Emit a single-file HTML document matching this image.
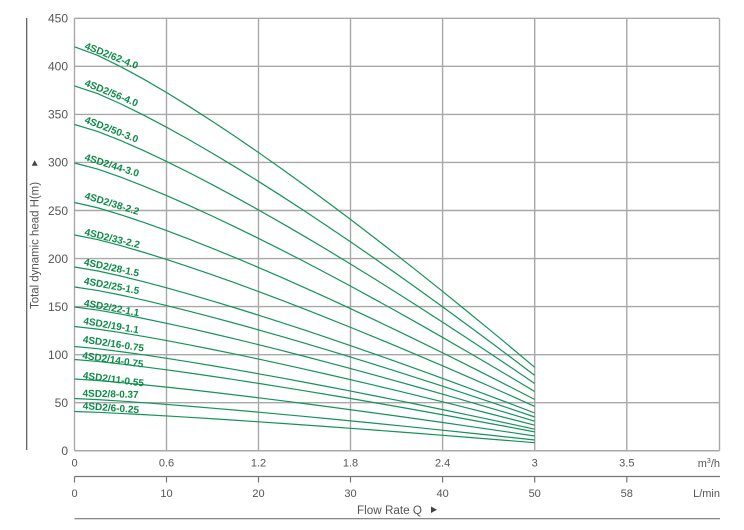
<!DOCTYPE html>
<html><head><meta charset="utf-8"><style>
html,body{margin:0;padding:0;background:#fff;}
svg{display:block;}
text{font-family:"Liberation Sans",sans-serif;}
.cv{fill:none;stroke:#14935a;stroke-width:1.2;vector-effect:non-scaling-stroke;}
</style></head><body>
<svg width="744" height="530" viewBox="0 0 744 530" xmlns="http://www.w3.org/2000/svg">
<!-- grid -->
<g stroke="#a8a8a8" stroke-width="1.4" fill="none">
<line x1="74.5" y1="18.3" x2="74.5" y2="450.75"/>
<line x1="166.5" y1="18.3" x2="166.5" y2="450.75"/>
<line x1="258.5" y1="18.3" x2="258.5" y2="450.75"/>
<line x1="350.5" y1="18.3" x2="350.5" y2="450.75"/>
<line x1="442.6" y1="18.3" x2="442.6" y2="450.75"/>
<line x1="534.7" y1="18.3" x2="534.7" y2="450.75"/>
<line x1="626.8" y1="18.3" x2="626.8" y2="450.75"/>
<line x1="719.5" y1="18.3" x2="719.5" y2="450.75"/>
<line x1="74.5" y1="18.3" x2="719.5" y2="18.3"/>
<line x1="74.5" y1="66.35" x2="719.5" y2="66.35"/>
<line x1="74.5" y1="114.4" x2="719.5" y2="114.4"/>
<line x1="74.5" y1="162.45" x2="719.5" y2="162.45"/>
<line x1="74.5" y1="210.5" x2="719.5" y2="210.5"/>
<line x1="74.5" y1="258.55" x2="719.5" y2="258.55"/>
<line x1="74.5" y1="306.6" x2="719.5" y2="306.6"/>
<line x1="74.5" y1="354.65" x2="719.5" y2="354.65"/>
<line x1="74.5" y1="402.7" x2="719.5" y2="402.7"/>
<line x1="74.5" y1="450.75" x2="719.5" y2="450.75"/>
</g>
<!-- curves -->
<path class="cv" transform="translate(74.5,46.8) scale(460.2,320.5)" d="M0,0 L0.05,0.02666 L0.1,0.06167 L0.15,0.1007 L0.2,0.14266 L0.25,0.18686 L0.3,0.23298 L0.35,0.28075 L0.4,0.33 L0.45,0.38054 L0.5,0.43226 L0.55,0.4851 L0.6,0.53894 L0.65,0.59375 L0.7,0.64947 L0.75,0.70604 L0.8,0.76338 L0.85,0.82152 L0.9,0.8803 L0.95,0.93979 L1,1"/>
<path class="cv" transform="translate(74.5,85.9) scale(460.2,289.5)" d="M0,0 L0.05,0.02666 L0.1,0.06167 L0.15,0.1007 L0.2,0.14266 L0.25,0.18686 L0.3,0.23298 L0.35,0.28075 L0.4,0.33 L0.45,0.38054 L0.5,0.43226 L0.55,0.4851 L0.6,0.53894 L0.65,0.59375 L0.7,0.64947 L0.75,0.70604 L0.8,0.76338 L0.85,0.82152 L0.9,0.8803 L0.95,0.93979 L1,1"/>
<path class="cv" transform="translate(74.5,124.5) scale(460.2,259)" d="M0,0 L0.05,0.02666 L0.1,0.06167 L0.15,0.1007 L0.2,0.14266 L0.25,0.18686 L0.3,0.23298 L0.35,0.28075 L0.4,0.33 L0.45,0.38054 L0.5,0.43226 L0.55,0.4851 L0.6,0.53894 L0.65,0.59375 L0.7,0.64947 L0.75,0.70604 L0.8,0.76338 L0.85,0.82152 L0.9,0.8803 L0.95,0.93979 L1,1"/>
<path class="cv" transform="translate(74.5,163) scale(460.2,228.5)" d="M0,0 L0.05,0.02666 L0.1,0.06167 L0.15,0.1007 L0.2,0.14266 L0.25,0.18686 L0.3,0.23298 L0.35,0.28075 L0.4,0.33 L0.45,0.38054 L0.5,0.43226 L0.55,0.4851 L0.6,0.53894 L0.65,0.59375 L0.7,0.64947 L0.75,0.70604 L0.8,0.76338 L0.85,0.82152 L0.9,0.8803 L0.95,0.93979 L1,1"/>
<path class="cv" transform="translate(74.5,202.5) scale(460.2,197)" d="M0,0 L0.05,0.02666 L0.1,0.06167 L0.15,0.1007 L0.2,0.14266 L0.25,0.18686 L0.3,0.23298 L0.35,0.28075 L0.4,0.33 L0.45,0.38054 L0.5,0.43226 L0.55,0.4851 L0.6,0.53894 L0.65,0.59375 L0.7,0.64947 L0.75,0.70604 L0.8,0.76338 L0.85,0.82152 L0.9,0.8803 L0.95,0.93979 L1,1"/>
<path class="cv" transform="translate(74.5,235) scale(460.2,171.4)" d="M0,0 L0.05,0.02666 L0.1,0.06167 L0.15,0.1007 L0.2,0.14266 L0.25,0.18686 L0.3,0.23298 L0.35,0.28075 L0.4,0.33 L0.45,0.38054 L0.5,0.43226 L0.55,0.4851 L0.6,0.53894 L0.65,0.59375 L0.7,0.64947 L0.75,0.70604 L0.8,0.76338 L0.85,0.82152 L0.9,0.8803 L0.95,0.93979 L1,1"/>
<path class="cv" transform="translate(74.5,267) scale(460.2,146)" d="M0,0 L0.05,0.02666 L0.1,0.06167 L0.15,0.1007 L0.2,0.14266 L0.25,0.18686 L0.3,0.23298 L0.35,0.28075 L0.4,0.33 L0.45,0.38054 L0.5,0.43226 L0.55,0.4851 L0.6,0.53894 L0.65,0.59375 L0.7,0.64947 L0.75,0.70604 L0.8,0.76338 L0.85,0.82152 L0.9,0.8803 L0.95,0.93979 L1,1"/>
<path class="cv" transform="translate(74.5,287) scale(460.2,130)" d="M0,0 L0.05,0.02666 L0.1,0.06167 L0.15,0.1007 L0.2,0.14266 L0.25,0.18686 L0.3,0.23298 L0.35,0.28075 L0.4,0.33 L0.45,0.38054 L0.5,0.43226 L0.55,0.4851 L0.6,0.53894 L0.65,0.59375 L0.7,0.64947 L0.75,0.70604 L0.8,0.76338 L0.85,0.82152 L0.9,0.8803 L0.95,0.93979 L1,1"/>
<path class="cv" transform="translate(74.5,307) scale(460.2,114.2)" d="M0,0 L0.05,0.02666 L0.1,0.06167 L0.15,0.1007 L0.2,0.14266 L0.25,0.18686 L0.3,0.23298 L0.35,0.28075 L0.4,0.33 L0.45,0.38054 L0.5,0.43226 L0.55,0.4851 L0.6,0.53894 L0.65,0.59375 L0.7,0.64947 L0.75,0.70604 L0.8,0.76338 L0.85,0.82152 L0.9,0.8803 L0.95,0.93979 L1,1"/>
<path class="cv" transform="translate(74.5,326.5) scale(460.2,98.7)" d="M0,0 L0.05,0.02666 L0.1,0.06167 L0.15,0.1007 L0.2,0.14266 L0.25,0.18686 L0.3,0.23298 L0.35,0.28075 L0.4,0.33 L0.45,0.38054 L0.5,0.43226 L0.55,0.4851 L0.6,0.53894 L0.65,0.59375 L0.7,0.64947 L0.75,0.70604 L0.8,0.76338 L0.85,0.82152 L0.9,0.8803 L0.95,0.93979 L1,1"/>
<path class="cv" transform="translate(74.5,346.5) scale(460.2,82.7)" d="M0,0 L0.05,0.02666 L0.1,0.06167 L0.15,0.1007 L0.2,0.14266 L0.25,0.18686 L0.3,0.23298 L0.35,0.28075 L0.4,0.33 L0.45,0.38054 L0.5,0.43226 L0.55,0.4851 L0.6,0.53894 L0.65,0.59375 L0.7,0.64947 L0.75,0.70604 L0.8,0.76338 L0.85,0.82152 L0.9,0.8803 L0.95,0.93979 L1,1"/>
<path class="cv" transform="translate(74.5,359.5) scale(460.2,72.4)" d="M0,0 L0.05,0.02666 L0.1,0.06167 L0.15,0.1007 L0.2,0.14266 L0.25,0.18686 L0.3,0.23298 L0.35,0.28075 L0.4,0.33 L0.45,0.38054 L0.5,0.43226 L0.55,0.4851 L0.6,0.53894 L0.65,0.59375 L0.7,0.64947 L0.75,0.70604 L0.8,0.76338 L0.85,0.82152 L0.9,0.8803 L0.95,0.93979 L1,1"/>
<path class="cv" transform="translate(74.5,379) scale(460.2,57)" d="M0,0 L0.05,0.02666 L0.1,0.06167 L0.15,0.1007 L0.2,0.14266 L0.25,0.18686 L0.3,0.23298 L0.35,0.28075 L0.4,0.33 L0.45,0.38054 L0.5,0.43226 L0.55,0.4851 L0.6,0.53894 L0.65,0.59375 L0.7,0.64947 L0.75,0.70604 L0.8,0.76338 L0.85,0.82152 L0.9,0.8803 L0.95,0.93979 L1,1"/>
<path class="cv" transform="translate(74.5,398.5) scale(460.2,41.5)" d="M0,0 L0.05,0.02666 L0.1,0.06167 L0.15,0.1007 L0.2,0.14266 L0.25,0.18686 L0.3,0.23298 L0.35,0.28075 L0.4,0.33 L0.45,0.38054 L0.5,0.43226 L0.55,0.4851 L0.6,0.53894 L0.65,0.59375 L0.7,0.64947 L0.75,0.70604 L0.8,0.76338 L0.85,0.82152 L0.9,0.8803 L0.95,0.93979 L1,1"/>
<path class="cv" transform="translate(74.5,411.5) scale(460.2,31.2)" d="M0,0 L0.05,0.02666 L0.1,0.06167 L0.15,0.1007 L0.2,0.14266 L0.25,0.18686 L0.3,0.23298 L0.35,0.28075 L0.4,0.33 L0.45,0.38054 L0.5,0.43226 L0.55,0.4851 L0.6,0.53894 L0.65,0.59375 L0.7,0.64947 L0.75,0.70604 L0.8,0.76338 L0.85,0.82152 L0.9,0.8803 L0.95,0.93979 L1,1"/>
<!-- curve labels -->
<g fill="#0b8a48" font-size="10" font-weight="bold">
<text transform="translate(84,48.5) rotate(21.5)" textLength="56.5" lengthAdjust="spacingAndGlyphs">4SD2/62-4.0</text>
<text transform="translate(84,85.5) rotate(22)" textLength="56.5" lengthAdjust="spacingAndGlyphs">4SD2/56-4.0</text>
<text transform="translate(84,122.5) rotate(21)" textLength="56.5" lengthAdjust="spacingAndGlyphs">4SD2/50-3.0</text>
<text transform="translate(84,160) rotate(17.5)" textLength="56.5" lengthAdjust="spacingAndGlyphs">4SD2/44-3.0</text>
<text transform="translate(84,198.5) rotate(17)" textLength="56.5" lengthAdjust="spacingAndGlyphs">4SD2/38-2.2</text>
<text transform="translate(84,235) rotate(13.5)" textLength="56.5" lengthAdjust="spacingAndGlyphs">4SD2/33-2.2</text>
<text transform="translate(83.5,265) rotate(12)" textLength="56" lengthAdjust="spacingAndGlyphs">4SD2/28-1.5</text>
<text transform="translate(83.5,284) rotate(10.5)" textLength="56" lengthAdjust="spacingAndGlyphs">4SD2/25-1.5</text>
<text transform="translate(83.5,306) rotate(10.5)" textLength="56" lengthAdjust="spacingAndGlyphs">4SD2/22-1.1</text>
<text transform="translate(83,324) rotate(9.5)" textLength="56" lengthAdjust="spacingAndGlyphs">4SD2/19-1.1</text>
<text transform="translate(82.5,342.5) rotate(8.5)" textLength="61.5" lengthAdjust="spacingAndGlyphs">4SD2/16-0.75</text>
<text transform="translate(82,358.5) rotate(8.5)" textLength="61.5" lengthAdjust="spacingAndGlyphs">4SD2/14-0.75</text>
<text transform="translate(82.5,378.5) rotate(7.5)" textLength="61.5" lengthAdjust="spacingAndGlyphs">4SD2/11-0.55</text>
<text transform="translate(82.5,396.5) rotate(1.5)" textLength="56" lengthAdjust="spacingAndGlyphs">4SD2/8-0.37</text>
<text transform="translate(82.5,409) rotate(4.3)" textLength="56.5" lengthAdjust="spacingAndGlyphs">4SD2/6-0.25</text>
</g>
<!-- y axis -->
<line x1="26.7" y1="18" x2="26.7" y2="450" stroke="#555" stroke-width="1.2"/>
<g fill="#555" font-size="12" text-anchor="end">
<text x="68" y="22.6">450</text>
<text x="68" y="70.6">400</text>
<text x="68" y="118.7">350</text>
<text x="68" y="166.7">300</text>
<text x="68" y="214.8">250</text>
<text x="68" y="262.8">200</text>
<text x="68" y="310.9">150</text>
<text x="68" y="358.9">100</text>
<text x="68" y="407">50</text>
<text x="68" y="455">0</text>
</g>
<text transform="translate(38.5,309) rotate(-90)" fill="#555" font-size="11.5" textLength="127" lengthAdjust="spacingAndGlyphs">Total dynamic head H(m)</text>
<polygon points="31.7,165.7 37.7,165.7 34.7,160.3" fill="#444"/>
<!-- x axis labels -->
<g fill="#555" font-size="11" text-anchor="middle">
<text x="74.5" y="466.5">0</text>
<text x="166.5" y="466.5">0.6</text>
<text x="258.5" y="466.5">1.2</text>
<text x="350.5" y="466.5">1.8</text>
<text x="442.6" y="466.5">2.4</text>
<text x="534.7" y="466.5">3</text>
<text x="626.8" y="466.5">3.5</text>
<text x="74.5" y="497">0</text>
<text x="166.5" y="497">10</text>
<text x="258.5" y="497">20</text>
<text x="350.5" y="497">30</text>
<text x="442.6" y="497">40</text>
<text x="534.7" y="497">50</text>
<text x="626.8" y="497">58</text>
</g>
<text x="720" y="467" fill="#555" font-size="11" text-anchor="end">m<tspan font-size="7" dy="-4">3</tspan><tspan dy="4">/h</tspan></text>
<text x="720" y="497" fill="#555" font-size="11" text-anchor="end">L/min</text>
<!-- secondary axis -->
<g stroke="#777" stroke-width="1.2">
<line x1="74.5" y1="476.5" x2="720" y2="476.5"/>
<line x1="74.5" y1="476.5" x2="74.5" y2="482.5"/>
<line x1="166.5" y1="476.5" x2="166.5" y2="482.5"/>
<line x1="258.5" y1="476.5" x2="258.5" y2="482.5"/>
<line x1="350.5" y1="476.5" x2="350.5" y2="482.5"/>
<line x1="442.6" y1="476.5" x2="442.6" y2="482.5"/>
<line x1="534.7" y1="476.5" x2="534.7" y2="482.5"/>
<line x1="626.8" y1="476.5" x2="626.8" y2="482.5"/>
<line x1="74.5" y1="518.7" x2="720" y2="518.7"/>
</g>
<text x="357" y="514" fill="#555" font-size="11.5" textLength="65" lengthAdjust="spacingAndGlyphs">Flow Rate Q</text>
<polygon points="431,506.5 431,513 437,509.75" fill="#444"/>
</svg>
</body></html>
